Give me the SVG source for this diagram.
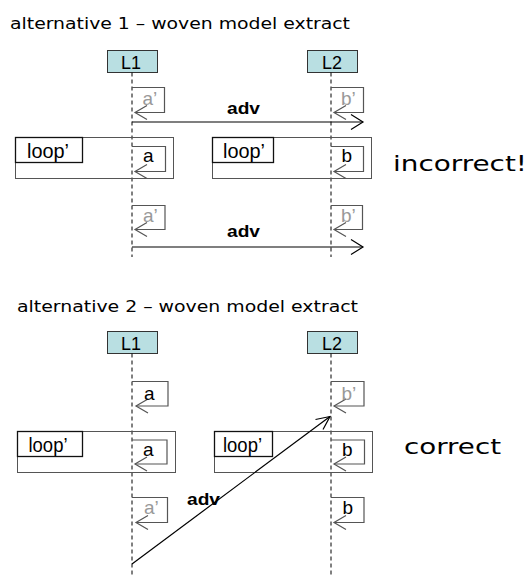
<svg xmlns="http://www.w3.org/2000/svg" width="531" height="577" viewBox="0 0 531 577">
  <style>
    .title { font-family: "DejaVu Sans", "Noto Sans", sans-serif; font-size: 16px; fill: #000; }
    .verdict { font-family: "DejaVu Sans", "Noto Sans", sans-serif; font-size: 21px; fill: #000; }
    .lbox { fill: #b9dfe2; stroke: #333; stroke-width: 1; }
    .lname { font-family: "Liberation Sans", Arial, sans-serif; font-size: 19px; fill: #000; text-anchor: middle; }
    .life { stroke: #000; stroke-width: 1; stroke-dasharray: 4 3; fill: none; }
    .frame { fill: none; stroke: #555; stroke-width: 1; }
    .tab { fill: none; stroke: #111; stroke-width: 1.3; }
    .tabtxt { font-family: "Liberation Sans", Arial, sans-serif; font-size: 20px; fill: #000; }
    .self { fill: none; stroke: #555; stroke-width: 1.2; }
    .msg { font-family: "Liberation Sans", Arial, sans-serif; font-size: 19px; fill: #000; }
    .grey { fill: #999; }
    .adv { fill: none; stroke: #000; stroke-width: 1.2; }
    .advtxt { font-family: "Liberation Sans", Arial, sans-serif; font-size: 17px; font-weight: bold; fill: #000; }
  </style>

  <!-- section 1 -->
  <text class="title" x="10" y="29" textLength="340" lengthAdjust="spacingAndGlyphs">alternative 1 – woven model extract</text>

  <g id="s1-L1">
    <rect class="lbox" x="107.5" y="50.5" width="50" height="22"/>
    <text class="lname" x="131" y="69" textLength="20" lengthAdjust="spacingAndGlyphs">L1</text>
    <line class="life" x1="132" y1="72.5" x2="132" y2="257"/>
  </g>
  <g id="s1-L2">
    <rect class="lbox" x="307.5" y="50.5" width="50" height="22"/>
    <text class="lname" x="332" y="69" textLength="20" lengthAdjust="spacingAndGlyphs">L2</text>
    <line class="life" x1="331" y1="72.5" x2="331" y2="257"/>
  </g>

  <g id="s1-loop-left">
    <rect class="frame" x="15.5" y="137.5" width="158" height="41"/>
    <rect class="tab" x="15.5" y="137.5" width="67" height="25"/>
    <text class="tabtxt" x="27" y="158" textLength="42" lengthAdjust="spacingAndGlyphs">loop’</text>
  </g>
  <g id="s1-loop-right">
    <rect class="frame" x="212.5" y="137.5" width="159" height="41"/>
    <rect class="tab" x="212.5" y="137.5" width="61" height="25"/>
    <text class="tabtxt" x="223" y="158" textLength="42" lengthAdjust="spacingAndGlyphs">loop’</text>
  </g>

  <text class="verdict" x="393" y="171" textLength="134" lengthAdjust="spacingAndGlyphs">incorrect!</text>

  <g id="s1-connectors">
    <!-- a' on L1 -->
    <path class="self" d="M132,87.5 H164.5 V112.5 H135"/>
    <polyline class="self" points="147,105.5 135,112.5 147,119.5"/>
    <text class="msg grey" x="142.5" y="105">a’</text>
    <!-- b' on L2 -->
    <path class="self" d="M331,87.5 H363.5 V112.5 H334"/>
    <polyline class="self" points="346,105.5 334,112.5 346,119.5"/>
    <text class="msg grey" x="341" y="105">b’</text>
    <!-- adv -->
    <line class="adv" x1="132" y1="122" x2="363" y2="122"/>
    <polyline class="adv" points="351,114.5 363,122 351,129.5"/>
    <text class="advtxt" x="227" y="114" textLength="33" lengthAdjust="spacingAndGlyphs">adv</text>
    <!-- a inside loop -->
    <path class="self" d="M132,146.5 H165.5 V171.5 H135"/>
    <polyline class="self" points="147,164.5 135,171.5 147,178.5"/>
    <text class="msg" x="143" y="162">a</text>
    <!-- b inside loop -->
    <path class="self" d="M331,146.5 H363.5 V171.5 H334"/>
    <polyline class="self" points="346,164.5 334,171.5 346,178.5"/>
    <text class="msg" x="341.5" y="162">b</text>
    <!-- a' after loop -->
    <path class="self" d="M132,205.5 H165 V229.5 H135"/>
    <polyline class="self" points="147,222.5 135,229.5 147,236.5"/>
    <text class="msg grey" x="143" y="222">a’</text>
    <!-- b' after loop -->
    <path class="self" d="M331,205.5 H362.5 V229.5 H334"/>
    <polyline class="self" points="346,222.5 334,229.5 346,236.5"/>
    <text class="msg grey" x="341" y="222">b’</text>
    <!-- adv -->
    <line class="adv" x1="132" y1="247" x2="363" y2="247"/>
    <polyline class="adv" points="351,239.5 363,247 351,254.5"/>
    <text class="advtxt" x="227" y="237" textLength="33" lengthAdjust="spacingAndGlyphs">adv</text>
  </g>

  <!-- section 2 -->
  <text class="title" x="17" y="312" textLength="341" lengthAdjust="spacingAndGlyphs">alternative 2 – woven model extract</text>

  <g id="s2-L1">
    <rect class="lbox" x="107.5" y="331.5" width="50" height="22"/>
    <text class="lname" x="131" y="350" textLength="20" lengthAdjust="spacingAndGlyphs">L1</text>
    <line class="life" x1="132" y1="353.5" x2="132" y2="577"/>
  </g>
  <g id="s2-L2">
    <rect class="lbox" x="307.5" y="331.5" width="50" height="22"/>
    <text class="lname" x="332" y="350" textLength="20" lengthAdjust="spacingAndGlyphs">L2</text>
    <line class="life" x1="331" y1="353.5" x2="331" y2="577"/>
  </g>

  <g id="s2-loop-left">
    <rect class="frame" x="17.5" y="431.5" width="158" height="41"/>
    <rect class="tab" x="17.5" y="431.5" width="65" height="25"/>
    <text class="tabtxt" x="28.5" y="452" textLength="39" lengthAdjust="spacingAndGlyphs">loop’</text>
  </g>
  <g id="s2-loop-right">
    <rect class="frame" x="214.5" y="431.5" width="158" height="41"/>
    <rect class="tab" x="214.5" y="431.5" width="58" height="25"/>
    <text class="tabtxt" x="223" y="452" textLength="39" lengthAdjust="spacingAndGlyphs">loop’</text>
  </g>

  <text class="verdict" x="404" y="454" textLength="97" lengthAdjust="spacingAndGlyphs">correct</text>

  <g id="s2-connectors">
    <!-- a on L1 -->
    <path class="self" d="M132,381.5 H168 V406 H136"/>
    <polyline class="self" points="148,399 136,406 148,413"/>
    <text class="msg" x="144" y="400">a</text>
    <!-- b' on L2 -->
    <path class="self" d="M331,381.5 H364 V406 H334"/>
    <polyline class="self" points="346,399 334,406 346,413"/>
    <text class="msg grey" x="341.5" y="400">b’</text>
    <!-- a inside loop -->
    <path class="self" d="M132,440 H167 V464 H135"/>
    <polyline class="self" points="147,457 135,464 147,471"/>
    <text class="msg" x="143" y="456">a</text>
    <!-- b inside loop -->
    <path class="self" d="M331,440 H364.5 V464 H334"/>
    <polyline class="self" points="346,457 334,464 346,471"/>
    <text class="msg" x="342" y="456">b</text>
    <!-- a' after loop -->
    <path class="self" d="M132,497.5 H167.5 V522.5 H136"/>
    <polyline class="self" points="148,515.5 136,522.5 148,529.5"/>
    <text class="msg grey" x="144" y="514">a’</text>
    <!-- b after loop -->
    <path class="self" d="M331,497.5 H364 V522.5 H334"/>
    <polyline class="self" points="346,515.5 334,522.5 346,529.5"/>
    <text class="msg" x="342.5" y="514">b</text>
    <!-- adv: diagonal -->
    <text class="advtxt" x="187" y="505" textLength="33" lengthAdjust="spacingAndGlyphs">adv</text>
    <line class="adv" x1="132" y1="564" x2="330" y2="416.5"/>
    <polyline class="adv" points="315.5,419.5 330,416.5 323,429.5"/>
  </g>
</svg>
